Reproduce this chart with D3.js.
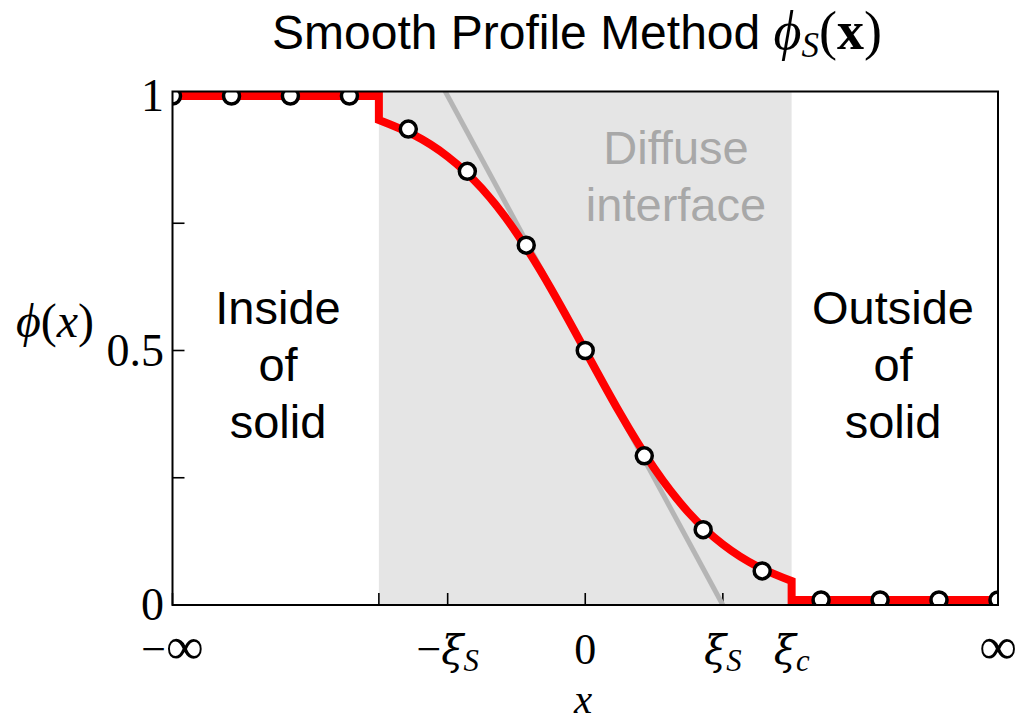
<!DOCTYPE html>
<html>
<head>
<meta charset="utf-8">
<script src="https://cdn.jsdelivr.net/npm/d3@7"></script>
<style>
  body { margin: 0; background: #fff; }
  svg { display: block; }
  .sans { font-family: "Liberation Sans", Arial, sans-serif; }
  .serif { font-family: "Liberation Serif", "DejaVu Serif", serif; }
  .greek { font-family: "DejaVu Serif", serif; }
</style>
</head>
<body>
<svg id="chart" width="1021" height="723"></svg>
<script>
// Position along the profile, in units of the interface half-width xi_S
const xiS = 1.0;
const xiC = 1.5;
const xMin = -3.0, xMax = 3.0;

// Continuous smooth profile inside the diffuse interface
const curveX = [-1.5, -1.25, -1.0, -0.75, -0.5, -0.25, 0, 0.25, 0.5, 0.75, 1.0, 1.25, 1.5];
const curveY = [0.953, 0.924, 0.881, 0.818, 0.731, 0.622, 0.5, 0.378, 0.269, 0.182, 0.119, 0.076, 0.047];
// Plateau levels outside the cut-off
const insideLevel = 1.0;
const outsideLevel = 0.01;

// Grid samples (open circles)
const sampleX = [-3, -2.571, -2.143, -1.714, -1.286, -0.857, -0.429, 0, 0.429, 0.857, 1.286, 1.714, 2.143, 2.571, 3];
const sampleY = [1, 1, 1, 1, 0.935, 0.852, 0.707, 0.5, 0.293, 0.148, 0.067, 0.01, 0.01, 0.01, 0.01];

// Tangent at the origin
const tangentX = [-1.02, 1.0];
const tangentY = [1.01, 0.0];

// Axis ticks
const xTickValues = [xMin, -xiC, -xiS, 0, xiS, xiC, xMax];
const xTickLabels = ["−∞", "", "−ξ_S", "0", "ξ_S", "ξ_c", "∞"];
const yTickValues = [0, 0.25, 0.5, 0.75, 1];
const yTickLabels = ["0", "", "0.5", "", "1"];

const svg = d3.select("#chart");
const plotLeft = 172.5, plotRight = 998, plotTop = 91.5, plotBottom = 605;

const x = d3.scaleLinear().domain([xMin, xMax]).range([plotLeft, plotRight]);
const y = d3.scaleLinear().domain([0, 1]).range([plotBottom, 96]);

svg.append("defs").append("clipPath").attr("id", "plot-clip")
  .append("rect").attr("x", plotLeft).attr("y", plotTop)
  .attr("width", plotRight - plotLeft).attr("height", plotBottom - plotTop);

// Diffuse interface band
svg.append("rect")
  .attr("x", x(-xiC)).attr("y", plotTop)
  .attr("width", x(xiC) - x(-xiC)).attr("height", plotBottom - plotTop)
  .attr("fill", "#e5e5e5");

// Inward ticks (drawn below the data lines)
const tickG = svg.append("g").attr("stroke", "#000").attr("stroke-width", 1.6);
xTickValues.forEach(v => {
  tickG.append("line").attr("x1", x(v)).attr("x2", x(v))
    .attr("y1", plotBottom).attr("y2", plotBottom - 12);
});
yTickValues.forEach(v => {
  tickG.append("line").attr("x1", plotLeft).attr("x2", plotLeft + 12)
    .attr("y1", y(v)).attr("y2", y(v));
});

const plot = svg.append("g").attr("clip-path", "url(#plot-clip)");

// Tangent line
plot.append("line")
  .attr("x1", x(tangentX[0])).attr("y1", y(tangentY[0]))
  .attr("x2", x(tangentX[1])).attr("y2", y(tangentY[1]))
  .attr("stroke", "#b5b5b5").attr("stroke-width", 5);

// Profile: flat inside, step at -xi_c, smooth interface, step at xi_c, flat outside
const smooth = d3.line()
  .x((d, i) => x(curveX[i])).y(d => y(d))
  .curve(d3.curveNatural)(curveY);
const pathD =
  "M" + x(xMin) + "," + y(insideLevel) +
  "L" + x(-xiC) + "," + y(insideLevel) +
  "L" + smooth.slice(1) +
  "L" + x(xiC) + "," + y(outsideLevel) +
  "L" + x(xMax) + "," + y(outsideLevel);
plot.append("path").attr("d", pathD)
  .attr("fill", "none").attr("stroke", "#ff0000")
  .attr("stroke-width", 8).attr("stroke-linejoin", "miter");

// Sample points
plot.selectAll("circle.sample").data(sampleY).enter().append("circle")
  .attr("class", "sample")
  .attr("cx", (d, i) => x(sampleX[i])).attr("cy", d => y(d))
  .attr("r", 8).attr("fill", "#fff")
  .attr("stroke", "#000").attr("stroke-width", 3.5);

// Region annotations
function block(lines, cx, baselines, color) {
  const t = svg.append("text").attr("class", "sans")
    .attr("text-anchor", "middle").attr("font-size", 47).attr("fill", color);
  lines.forEach((s, i) => t.append("tspan").attr("x", cx).attr("y", baselines[i]).text(s));
}
block(["Inside", "of", "solid"], 278, [324, 381, 438], "#000");
block(["Outside", "of", "solid"], 893, [324, 381, 438], "#000");
block(["Diffuse", "interface"], 676, [164, 221], "#a8a8a8");

// Frame
svg.append("rect").attr("x", plotLeft).attr("y", plotTop)
  .attr("width", plotRight - plotLeft).attr("height", plotBottom - plotTop)
  .attr("fill", "none").attr("stroke", "#000").attr("stroke-width", 2);

// Math-style label writer: "a_b" renders b as subscript
function mathLabel(sel, label) {
  const parts = label.split("_");
  const m = parts[0].match(/^(−?)(.*)$/);
  if (m[1]) sel.append("tspan").text(m[1]);
  if (m[2] === "∞") {
    sel.append("tspan").attr("font-size", "1.2em").text(m[2]);
  } else if (/[0-9]/.test(m[2])) {
    sel.append("tspan").text(m[2]);
  } else if (m[2]) {
    sel.append("tspan").attr("class", "greek").attr("font-style", "italic")
      .attr("font-size", "0.92em").text(m[2]);
  }
  if (parts[1]) sel.append("tspan").attr("font-style", "italic")
    .attr("font-size", "0.7em").attr("dy", "0.22em").text(parts[1]);
}

// X tick labels
xTickValues.forEach((v, i) => {
  if (!xTickLabels[i]) return;
  const t = svg.append("text").attr("class", "serif").attr("font-size", 44)
    .attr("text-anchor", "middle").attr("x", x(v)).attr("y", 664);
  mathLabel(t, xTickLabels[i]);
});

// Y tick labels
yTickValues.forEach((v, i) => {
  if (!yTickLabels[i]) return;
  svg.append("text").attr("class", "serif").attr("font-size", 46)
    .attr("text-anchor", "end").attr("x", 164).attr("y", y(v) + 15)
    .text(yTickLabels[i]);
});

// Axis labels
svg.append("text").attr("class", "serif").attr("font-size", 41)
  .attr("font-style", "italic").attr("text-anchor", "middle")
  .attr("x", 583).attr("y", 713).text("x");

const yl = svg.append("text").attr("class", "serif").attr("font-size", 48)
  .attr("text-anchor", "middle").attr("x", 55).attr("y", 337);
yl.append("tspan").attr("font-style", "italic").text("ϕ");
yl.append("tspan").text("(");
yl.append("tspan").attr("font-style", "italic").text("x");
yl.append("tspan").text(")");

// Title
const title = svg.append("text").attr("text-anchor", "middle")
  .attr("x", 577).attr("y", 49).attr("font-size", 48);
title.append("tspan").attr("class", "sans").text("Smooth Profile Method ");
title.append("tspan").attr("class", "serif").attr("font-style", "italic")
  .attr("font-size", 54).text("ϕ");
title.append("tspan").attr("class", "serif").attr("font-style", "italic")
  .attr("font-size", 35).attr("dy", 8).text("S");
title.append("tspan").attr("class", "serif").attr("font-size", 54).attr("dy", -8).text("(");
title.append("tspan").attr("class", "serif").attr("font-size", 54).attr("font-weight", "bold").text("x");
title.append("tspan").attr("class", "serif").attr("font-size", 54).text(")");
</script>
</body>
</html>
